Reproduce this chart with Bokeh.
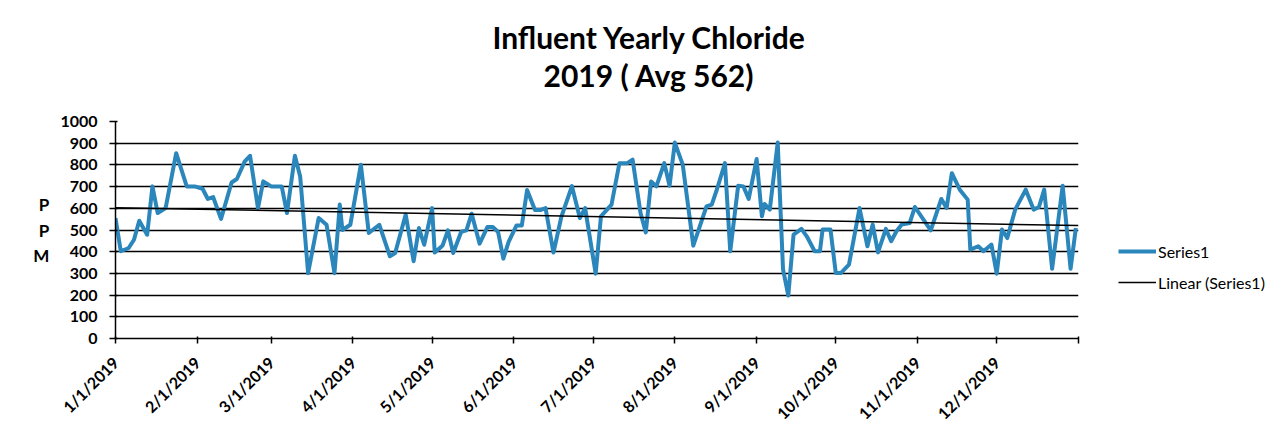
import numpy as np
import pandas as pd
from bokeh.plotting import figure
from bokeh.models import Legend, LegendItem, FixedTicker, Range1d, Title
from bokeh.embed import file_html
from bokeh.resources import INLINE

# ---------------- data ----------------
sample_dates = [
    "2019-01-01", "2019-01-03", "2019-01-06", "2019-01-08", "2019-01-10", "2019-01-13",
    "2019-01-15", "2019-01-17", "2019-01-20", "2019-01-24", "2019-01-28", "2019-01-31",
    "2019-02-03", "2019-02-05", "2019-02-07", "2019-02-10", "2019-02-14", "2019-02-16",
    "2019-02-19", "2019-02-21", "2019-02-24", "2019-02-26",
    "2019-03-01", "2019-03-05", "2019-03-07", "2019-03-10", "2019-03-12", "2019-03-15",
    "2019-03-19", "2019-03-22", "2019-03-25", "2019-03-27", "2019-03-28", "2019-03-31",
    "2019-04-04", "2019-04-07", "2019-04-11", "2019-04-15", "2019-04-17", "2019-04-21",
    "2019-04-24", "2019-04-26", "2019-04-28",
    "2019-05-01", "2019-05-02", "2019-05-05", "2019-05-07", "2019-05-09", "2019-05-12",
    "2019-05-14", "2019-05-16", "2019-05-19", "2019-05-22", "2019-05-24", "2019-05-26",
    "2019-05-28", "2019-05-30",
    "2019-06-02", "2019-06-04", "2019-06-06", "2019-06-09", "2019-06-11", "2019-06-13",
    "2019-06-16", "2019-06-19", "2019-06-23", "2019-06-26", "2019-06-28",
    "2019-07-02", "2019-07-04", "2019-07-08", "2019-07-11", "2019-07-14", "2019-07-16",
    "2019-07-19", "2019-07-21", "2019-07-23", "2019-07-25", "2019-07-28", "2019-07-30",
    "2019-08-01", "2019-08-04", "2019-08-08", "2019-08-13", "2019-08-15", "2019-08-17",
    "2019-08-20", "2019-08-22", "2019-08-25", "2019-08-27", "2019-08-29",
    "2019-09-01", "2019-09-03", "2019-09-04", "2019-09-06", "2019-09-09", "2019-09-11",
    "2019-09-13", "2019-09-15", "2019-09-18", "2019-09-20", "2019-09-23", "2019-09-25",
    "2019-09-26", "2019-09-29",
    "2019-10-01", "2019-10-03", "2019-10-06", "2019-10-10", "2019-10-13", "2019-10-15",
    "2019-10-17", "2019-10-20", "2019-10-22", "2019-10-24", "2019-10-26", "2019-10-29",
    "2019-10-31", "2019-11-06", "2019-11-10", "2019-11-12", "2019-11-14", "2019-11-17",
    "2019-11-20", "2019-11-21", "2019-11-24", "2019-11-26", "2019-11-29",
    "2019-12-01", "2019-12-03", "2019-12-05", "2019-12-08", "2019-12-12", "2019-12-15",
    "2019-12-17", "2019-12-19", "2019-12-22", "2019-12-26", "2019-12-29", "2019-12-31",
]

chloride_ppm = [
    555, 402, 417, 455, 543, 478, 701, 578, 601, 854, 701, 701,
    690, 643, 652, 551, 719, 735, 816, 842, 601, 724,
    701, 701, 578, 842, 747, 301, 555, 524, 301, 617, 500, 524,
    801, 486, 524, 379, 394, 571, 356, 509, 432,
    601, 396, 429, 498, 394, 491, 498, 575, 437, 514, 514, 491, 368, 445,
    521, 521, 684, 592, 592, 601, 396, 561, 702, 555, 601,
    299, 563, 617, 808, 808, 824, 578, 489, 724, 701, 808, 704,
    903, 801, 428, 609, 617, 689, 808, 402, 704, 701, 643,
    827, 563, 620, 594, 903, 320, 198, 479, 505, 471, 402, 402, 502, 502,
    302, 302, 340, 601, 425, 525, 397, 505, 448, 494, 525, 532,
    606, 498, 643, 601, 762, 686, 640, 410, 425, 402, 433,
    299, 502, 463, 594, 686, 594, 606, 686, 321, 704, 321, 509,
]

tick_dates = ["2019-01-01", "2019-02-01", "2019-03-01", "2019-04-01", "2019-05-01",
              "2019-06-01", "2019-07-01", "2019-08-01", "2019-09-01", "2019-10-01",
              "2019-11-01", "2019-12-01", "2020-01-01"]
tick_labels = ["1/1/2019", "2/1/2019", "3/1/2019", "4/1/2019", "5/1/2019", "6/1/2019",
               "7/1/2019", "8/1/2019", "9/1/2019", "10/1/2019", "11/1/2019", "12/1/2019", ""]
y_ticks = [0, 100, 200, 300, 400, 500, 600, 700, 800, 900, 1000]

title_lines = ["Influent Yearly Chloride", "2019 ( Avg 562)"]
y_title_letters = ["P", "P", "M"]
series_names = ["Series1", "Linear (Series1)"]

# ---------------- derived ----------------
origin = pd.Timestamp("2019-01-01")
x_days = np.array([(pd.Timestamp(d) - origin).days for d in sample_dates], dtype=float)
y_vals = np.array(chloride_ppm, dtype=float)
tick_days = [int((pd.Timestamp(d) - origin).days) for d in tick_dates]

slope, intercept = np.polyfit(x_days, y_vals, 1)
trend_x = np.array([tick_days[0], tick_days[-1]], dtype=float)
trend_y = slope * trend_x + intercept

FONT = "Lato"
LINE_BLUE = "#2B86BC"

p = figure(frame_width=963, frame_height=217, output_backend="svg", toolbar_location=None,
           x_range=Range1d(tick_days[0], tick_days[-1]), y_range=Range1d(0, 1000),
           min_border_left=115, min_border_right=197, min_border_top=121,
           min_border_bottom=86, title=None)
p.outline_line_color = None
p.background_fill_color = "white"
p.border_fill_color = "white"

# title: spacer next to the frame, then line 2, then line 1 (stacked outward)
title_style = dict(text_font=FONT, text_font_style="bold", text_font_size="30px",
                   text_color="black", align="left", vertical_align="bottom", standoff=0)
p.add_layout(Title(text=" ", text_font_size="1px", standoff=26), "above")
p.add_layout(Title(text=title_lines[1], offset=428, **title_style), "above")
p.add_layout(Title(text=title_lines[0], offset=377, **title_style), "above")

r_data = p.line(x_days, y_vals, line_color=LINE_BLUE, line_width=4, line_join="round")
r_trend = p.line(trend_x, trend_y, line_color="black", line_width=1.5)

# axes
p.xaxis.ticker = FixedTicker(ticks=tick_days)
p.xaxis.major_label_overrides = {t: l for t, l in zip(tick_days, tick_labels)}
p.xaxis.major_label_orientation = np.pi / 4
p.xaxis.major_label_text_font = FONT
p.xaxis.major_label_text_font_style = "bold"
p.xaxis.major_label_text_font_size = "16px"
p.xaxis.major_label_text_color = "black"
p.xaxis.major_label_standoff = 16
p.xaxis.axis_line_color = "black"
p.xaxis.axis_line_width = 1.5
p.xaxis.major_tick_line_color = "black"
p.xaxis.major_tick_line_width = 1.5
p.xaxis.major_tick_in = 2
p.xaxis.major_tick_out = 5
p.xaxis.minor_tick_line_color = None

p.yaxis.ticker = FixedTicker(ticks=y_ticks)
p.yaxis.major_label_text_font = FONT
p.yaxis.major_label_text_font_style = "bold"
p.yaxis.major_label_text_font_size = "16px"
p.yaxis.major_label_text_color = "black"
p.yaxis.major_label_standoff = 12
p.yaxis.axis_line_color = "black"
p.yaxis.axis_line_width = 1.5
p.yaxis.major_tick_line_color = "black"
p.yaxis.major_tick_line_width = 1.5
p.yaxis.major_tick_in = 2
p.yaxis.major_tick_out = 6
p.yaxis.minor_tick_line_color = None

# "P P M" stacked axis title
p.yaxis.axis_label = "\n".join(y_title_letters)
p.yaxis.axis_label_orientation = "horizontal"
p.yaxis.axis_label_text_font = FONT
p.yaxis.axis_label_text_font_style = "bold"
p.yaxis.axis_label_text_font_size = "17px"
p.yaxis.axis_label_text_line_height = 1.22
p.yaxis.axis_label_text_color = "black"
p.yaxis.axis_label_standoff = 8

p.xgrid.grid_line_color = None
p.ygrid.ticker = FixedTicker(ticks=y_ticks)
p.ygrid.grid_line_color = "black"
p.ygrid.grid_line_width = 1.4

legend = Legend(items=[LegendItem(label=series_names[0], renderers=[r_data]),
                       LegendItem(label=series_names[1], renderers=[r_trend])],
                location=(40, 46), orientation="vertical",
                label_text_font=FONT, label_text_font_size="16px", label_text_color="black",
                glyph_width=38, glyph_height=20, label_height=20, label_standoff=2,
                spacing=11, padding=0, margin=0,
                border_line_color=None, background_fill_alpha=0)
p.add_layout(legend, "right")

open("out.html", "w").write(file_html(p, INLINE))
